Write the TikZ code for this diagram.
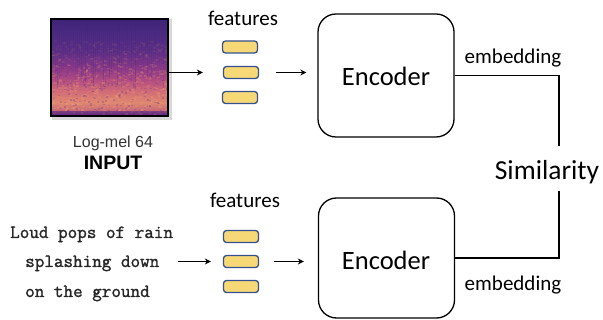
\documentclass[tikz,border=0pt]{standalone}
\usepackage{fontspec}
\usetikzlibrary{arrows.meta}
\newfontfamily\calib{Carlito}
\newfontfamily\arialf{Liberation Sans}
\newfontfamily\courf[FakeBold=1.5]{Latin Modern Mono}
\definecolor{featfill}{HTML}{F7D877}
\definecolor{featdraw}{HTML}{34518F}
\definecolor{spA}{HTML}{3F2478}
\definecolor{spB}{HTML}{4A2A82}
\definecolor{spC}{HTML}{5E2E86}
\definecolor{spD}{HTML}{8A3888}
\definecolor{spE}{HTML}{B04A82}
\definecolor{spF}{HTML}{D06A78}
\definecolor{spG}{HTML}{E08870}
\definecolor{spH}{HTML}{C86878}
\definecolor{spI}{HTML}{7A3486}
\definecolor{spJ}{HTML}{5A2A80}
\definecolor{spO}{HTML}{F0A070}
\pgfdeclareverticalshading{specshade}{100bp}{color(0bp)=(spJ); color(25bp)=(spJ); color(26bp)=(spI); color(28bp)=(spH); color(32bp)=(spG); color(38bp)=(spF); color(44bp)=(spE); color(50bp)=(spD); color(58bp)=(spC); color(68bp)=(spB); color(75bp)=(spA); color(100bp)=(spA)}
\tikzset{
  featbox/.style={draw=featdraw, fill=featfill, line width=1.3pt, rounded corners=3pt, minimum width=35pt, minimum height=12pt, inner sep=0pt},
  encbox/.style={draw, line width=1.3pt, rounded corners=18pt, minimum width=136pt, inner sep=0pt},
  arr/.style={-{Stealth[length=6pt,width=6pt]}, line width=1.1pt},
  lbl/.style={font=\calib\fontsize{21}{24}\selectfont, inner sep=0pt, anchor=base},
  enctxt/.style={font=\calib\fontsize{26.5}{30}\selectfont, inner sep=0pt, anchor=base},
  captxt/.style={font=\courf\fontsize{18.6}{20}\selectfont, text=black!85, inner sep=0pt, anchor=base west},
}
\begin{document}
\begin{tikzpicture}[x=1pt,y=-1pt]
\useasboundingbox (0,0) rectangle (603,320);
% spectrogram
\fill[black!30, opacity=0.5] (51.5,19.5) rectangle (172,120);
\node[shading=specshade, minimum width=117pt, minimum height=97pt, inner sep=0pt] (spec) at (109.5,67.5) {};
\begin{scope}
\clip (spec.north west) rectangle (spec.south east);
\pgfmathsetseed{7}
\foreach \i in {0,...,58} {
  \pgfmathsetmacro{\oo}{0.05+0.25*rnd}
  \pgfmathsetmacro{\ll}{30+40*rnd}
  \fill[spA, opacity=\oo] (51+2*\i,19) rectangle ++(1.2,\ll);
}
\foreach \i in {1,...,700} {
  \pgfmathsetmacro{\xx}{50+118*rnd}
  \pgfmathsetmacro{\yy}{40+76*rnd}
  \pgfmathsetmacro{\oo}{0.05+0.45*rnd*(\yy-40)/76}
  \fill[spO, opacity=\oo] (\xx,\yy) rectangle ++(2.5,1.6);
}
\foreach \i in {1,...,250} {
  \pgfmathsetmacro{\xx}{50+118*rnd}
  \pgfmathsetmacro{\yy}{60+56*rnd}
  \fill[spC, opacity=0.25] (\xx,\yy) rectangle ++(2,1.5);
}
\fill[spJ, opacity=0.6] (51,111) rectangle (169,117);
\end{scope}
\draw[line width=2.5pt] (spec.north west) rectangle (spec.south east);
\node[font=\arialf\fontsize{16}{18}\selectfont, text=black!80, inner sep=0pt, anchor=base] (logmel) at (113,148) {Log-mel 64};
\node[font=\arialf\bfseries\fontsize{19.5}{22}\selectfont, inner sep=0pt, anchor=base] (input) at (113,170) {INPUT};
% top features
\node[lbl] (feat1) at (243,26) {features};
\node[featbox] (f1a) at (240,47) {};
\node[featbox] (f1b) at (241,72.5) {};
\node[featbox] (f1c) at (240,97.5) {};
% bottom features
\node[lbl] (feat2) at (245,208) {features};
\node[featbox] (f2a) at (241,236.5) {};
\node[featbox] (f2b) at (241,261.5) {};
\node[featbox] (f2c) at (241,286.5) {};
% caption text
\node[captxt] (c1) at (10,238) {Loud pops of rain};
\node[captxt] (c2) at (25,267) {splashing down};
\node[captxt] (c3) at (25,297) {on the ground};
% encoders
\node[encbox, minimum height=123pt] (enc1) at (386,75.5) {};
\node[enctxt] (e1t) at (386,86) {Encoder};
\node[encbox, minimum height=120pt] (enc2) at (386.5,258) {};
\node[enctxt] (e2t) at (386,270) {Encoder};
% similarity
\node[font=\calib\fontsize{27.5}{30}\selectfont, inner sep=0pt, anchor=base] (sim) at (547,180) {Similarity};
\coordinate (simtop) at (559,146);
\coordinate (simbot) at (559,191);
\node[lbl] (emb1) at (513,64) {embedding};
\node[lbl] (emb2) at (513,291) {embedding};
% connectors
\draw[arr, line width=1.4pt] (spec.east |- f1b.west) -- ([xshift=-20pt]f1b.west);
\draw[arr] ([xshift=17pt]f1b.east) -- ([xshift=-11pt]enc1.west |- f1b.east);
\draw[arr] ([xshift=18pt]c2.east |- f2b.west) -- ([xshift=-12pt]f2b.west);
\draw[arr] ([xshift=15pt]f2b.east) -- ([xshift=-14pt]enc2.west |- f2b.east);
\draw[line width=1.3pt] (enc1.east) -| (simtop);
\draw[line width=1.3pt] (simbot) |- (enc2.east);
\end{tikzpicture}
\end{document}
